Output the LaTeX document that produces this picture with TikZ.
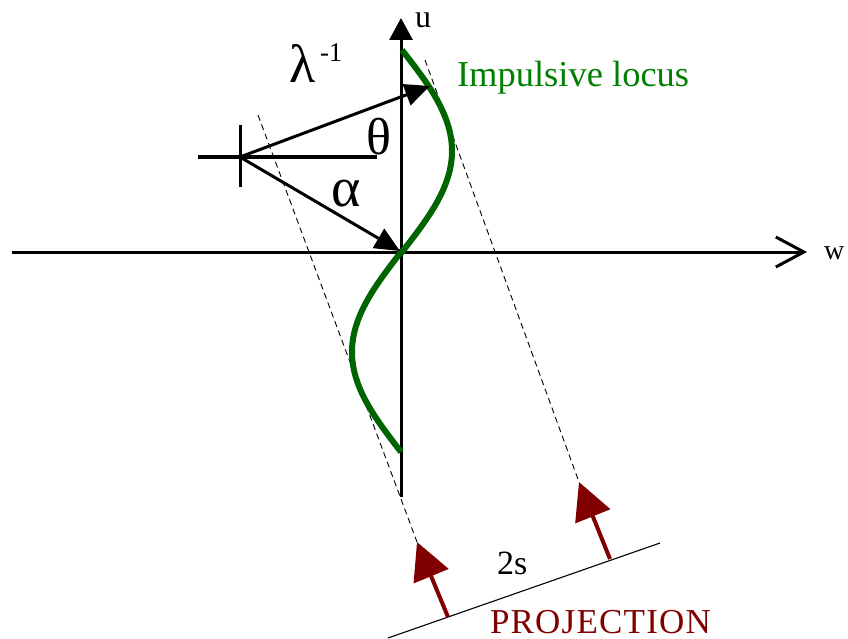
\documentclass[tikz,border=0pt]{standalone}
\usepackage{fontspec}
\setmainfont{Liberation Serif}
\usetikzlibrary{arrows.meta}
\definecolor{locusgreen}{RGB}{0,100,0}
\definecolor{labelgreen}{RGB}{0,128,0}
\definecolor{projred}{RGB}{128,0,0}
\begin{document}
\begin{tikzpicture}[x=1pt,y=-1pt,
  axisline/.style={line width=3pt,black},
  vec/.style={line width=3pt,black,-{Triangle[length=25pt,width=22pt]}},
  guide/.style={line width=0.9pt,dash pattern=on 6pt off 4pt},
  ray/.style={line width=4pt,projred,-{Triangle[length=37pt,width=37pt]}},
  lbl/.style={inner sep=0pt,outer sep=0pt,anchor=base west},
]
\useasboundingbox (0,0) rectangle (848,639);
% coordinates
\coordinate (O) at (401,252);
\coordinate (wL) at (12,252);
\coordinate (wR) at (807,252);
\coordinate (uB) at (401,497);
\coordinate (uT) at (401,18);
\coordinate (P) at (240,157);
\coordinate (tickT) at (240,125);
\coordinate (tickB) at (240,187);
\coordinate (barL) at (198,157);
\coordinate (barR) at (377,157);
\coordinate (lamTip) at (430,86);
\coordinate (alpTip) at (400,251);
\coordinate (projA) at (388,638);
\coordinate (projB) at (660,543);
\coordinate (rayAbase) at (448,617);
\coordinate (rayAtip) at (417,542);
\coordinate (rayBbase) at (610,559);
\coordinate (rayBtip) at (579,482);
\coordinate (dashAtop) at (258,115);
\coordinate (dashBtop) at (425,60);
% dashed guides
\draw[guide] (dashAtop) -- (rayAtip);
\draw[guide] (dashBtop) -- (rayBtip);
% axes
\draw[axisline,-{Straight Barb[length=28pt,width=30pt,line width=3pt]}] (wL) -- (wR);
\draw[axisline,-{Triangle[length=22pt,width=23pt]}] (uB) -- (uT);
% bar and tick
\draw[line width=3.5pt] (barL) -- (barR);
\draw[line width=3pt] (tickT) -- (tickB);
% locus
\draw[line width=6pt,locusgreen]
  plot[domain=50:252,samples=80,smooth] ({402+50*sin((252-\x)/202*180)},\x)
  -- plot[domain=252:452,samples=80,smooth] ({401-49*sin((\x-252)/200*180)},\x);
% vectors
\draw[vec] (P) -- (lamTip);
\draw[vec] (P) -- (alpTip);
% projection
\draw[line width=1.1pt] (projA) -- (projB);
\draw[ray] (rayAbase) -- (rayAtip);
\draw[ray] (rayBbase) -- (rayBtip);
% labels
\node[lbl,font=\fontsize{32}{36}\selectfont] (ulab) at (415,28) {u};
\node[lbl,font=\fontsize{28}{32}\selectfont] (wlab) at (824,259) {w};
\node[lbl,font=\fontsize{36.5}{40}\selectfont,text=labelgreen] (loc) at (457,87) {Impulsive locus};
\node[lbl,font=\fontsize{54}{58}\selectfont] (lam) at (289,83) {λ};
\node[lbl,font=\fontsize{27}{30}\selectfont] (inv) at (320,62) {-1};
\node[lbl,font=\fontsize{52}{56}\selectfont] (th) at (366,155) {θ};
\node[lbl,font=\fontsize{56}{60}\selectfont] (al) at (331,207) {α};
\node[lbl,font=\fontsize{34}{38}\selectfont] (two) at (497,574) {2s};
\node[lbl,font=\fontsize{35}{40}\selectfont\addfontfeature{LetterSpace=3.5},text=projred] (proj) at (490,633) {PROJECTION};
\end{tikzpicture}
\end{document}
